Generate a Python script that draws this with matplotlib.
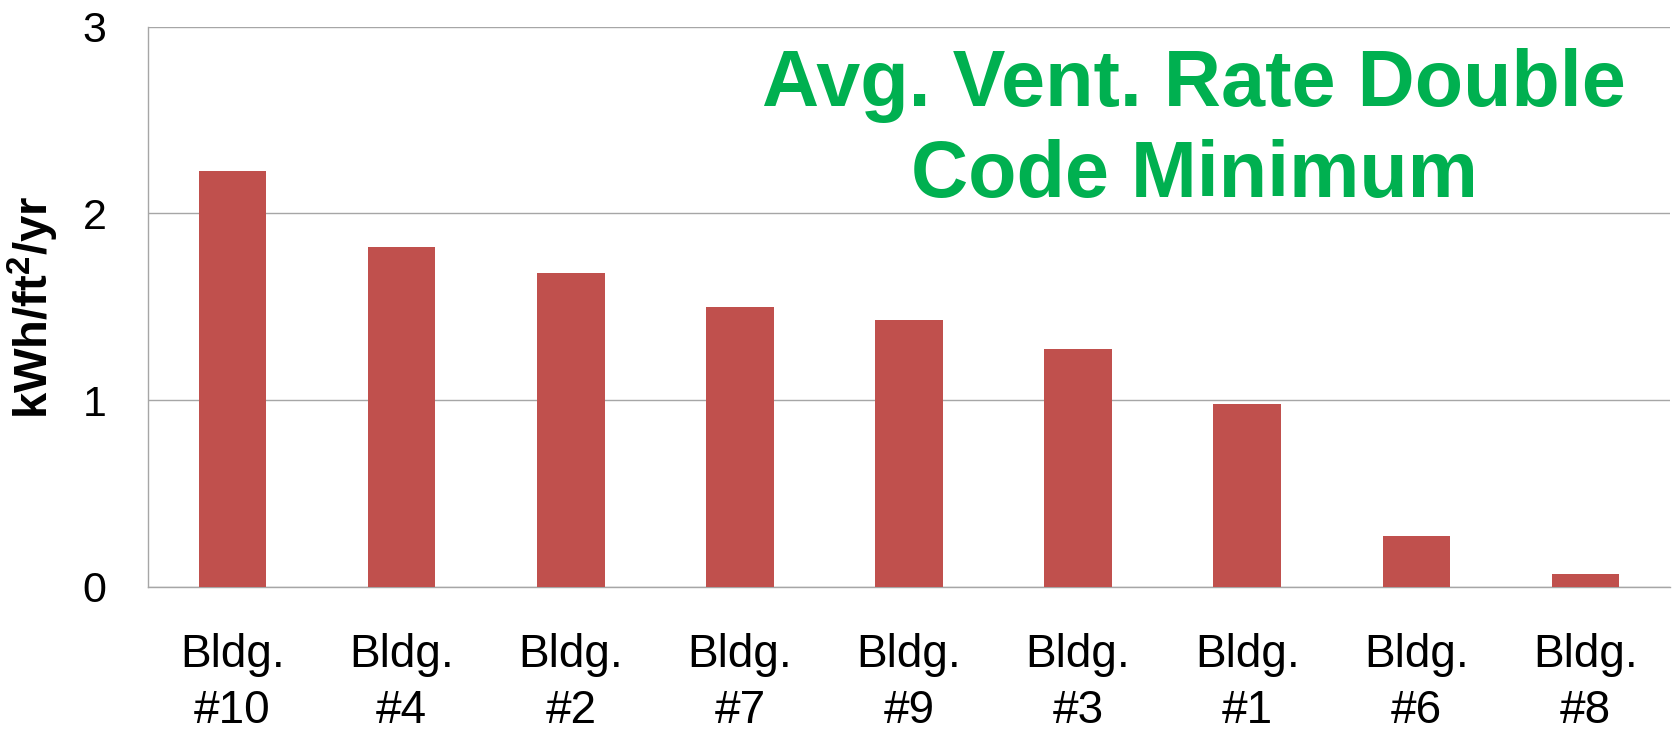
import matplotlib
matplotlib.use("Agg")
import matplotlib.pyplot as plt

categories = ["Bldg.\n#10", "Bldg.\n#4", "Bldg.\n#2", "Bldg.\n#7", "Bldg.\n#9",
              "Bldg.\n#3", "Bldg.\n#1", "Bldg.\n#6", "Bldg.\n#8"]
values = [2.227, 1.822, 1.679, 1.499, 1.431, 1.272, 0.978, 0.271, 0.071]
yticks = [0, 1, 2, 3]
ylabel = r"kWh/ft$^{\mathbf{2}}$/yr"
title_lines = ["Avg. Vent. Rate Double", "Code Minimum"]

plt.rcParams['font.family'] = ['Liberation Sans', 'DejaVu Sans']
plt.rcParams['mathtext.fontset'] = 'custom'
plt.rcParams['mathtext.rm'] = 'Liberation Sans'
plt.rcParams['mathtext.bf'] = 'Liberation Sans:bold'

W, H = 1676, 731
fig = plt.figure(figsize=(W / 100, H / 100), dpi=100)
left, right, top, bottom = 148, 1670, 26.6, 587
ax = fig.add_axes([left / W, 1 - bottom / H, (right - left) / W, (bottom - top) / H])

x = list(range(len(categories)))
ax.bar(x, values, width=0.4, color="#C0504D", zorder=3)

ax.set_xlim(-0.5, len(categories) - 0.5)
ax.set_ylim(0, 3)
ax.set_yticks(yticks)
ax.set_yticklabels([str(t) for t in yticks])
ax.set_xticks(x)
ax.set_xticklabels(categories, linespacing=1.35)

grid_col = "#A6A6A6"
ax.yaxis.grid(True, color=grid_col, linewidth=1.0, zorder=0)
ax.set_axisbelow(True)
for s in ["top", "right"]:
    ax.spines[s].set_visible(False)
for s in ["left", "bottom"]:
    ax.spines[s].set_color(grid_col)
    ax.spines[s].set_linewidth(1.0)

ax.tick_params(axis="y", length=0, pad=30, labelsize=31)
ax.tick_params(axis="x", length=0, pad=33, labelsize=33)

ax.set_ylabel(ylabel, fontsize=34, fontweight="bold", va="center")
ax.yaxis.set_label_coords((33 - left) / (right - left), 0.5)

xc = (1194 - left) / (right - left)
for line, yb in zip(title_lines, [105.7, 196.7]):
    ax.text(xc, (bottom - yb) / (bottom - top), line, transform=ax.transAxes,
            ha="center", va="baseline", fontsize=57, fontweight="bold",
            color="#00B050")

fig.savefig("out.png", dpi=100)
